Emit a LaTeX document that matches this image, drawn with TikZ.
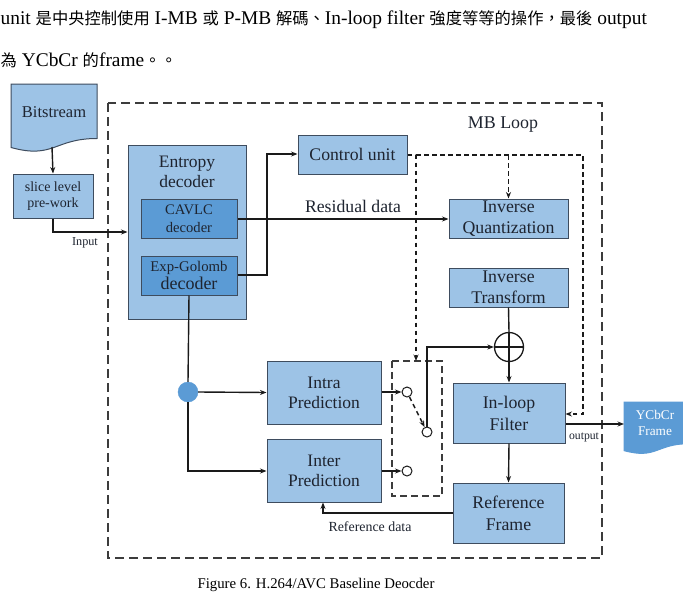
\documentclass[tikz,border=0pt]{standalone}
\usepackage{fontspec}
\setmainfont{Liberation Serif}
\newfontfamily\cjk{Noto Sans CJK TC}
\usetikzlibrary{arrows.meta}
\definecolor{boxc}{HTML}{9DC3E6}
\definecolor{darkc}{HTML}{5B9BD5}
\definecolor{bordc}{HTML}{3E4C5E}
\definecolor{txtc}{HTML}{1E2430}
\definecolor{linec}{HTML}{1A1A1A}
\newcommand\fsz[2]{\fontsize{#1}{#2}\selectfont}
\newcommand\zh{\cjk\fsz{16.3}{19}}
\begin{document}
\begin{tikzpicture}[x=1pt,y=-1pt,
  >={Stealth[length=6.5pt,width=5pt]},
  box/.style={draw=bordc, fill=boxc, line width=1pt, inner sep=0pt, align=center, text=txtc},
  dbox/.style={box, fill=darkc},
  lbl/.style={inner sep=0pt, align=center, text=txtc},
  conn/.style={draw=linec, line width=1.4pt},
  outerdash/.style={draw=linec!85, line width=1.6pt, dash pattern=on 9pt off 5pt},
  swdash/.style={draw=linec!85, line width=1.4pt, dash pattern=on 7pt off 4pt},
  ctrldash/.style={draw=linec, line width=1.4pt, dash pattern=on 4.5pt off 3.5pt},
  sw/.style={circle, draw=linec, fill=white, line width=1pt, minimum size=10pt, inner sep=0pt},
]
\useasboundingbox (0,0) rectangle (683,613);
\fill[white] (0,0) rectangle (683,613);

% header text
\node[anchor=base west, inner sep=0pt, text=black] (h1) at (0.5,24)
  {\fsz{19.4}{22}unit {\zh 是中央控制使用} I-MB {\zh 或} P-MB {\zh 解碼、}In-loop filter {\zh 強度等等的操作，最後} output};
\node[anchor=base west, inner sep=0pt, text=black] (h2) at (0.5,66)
  {\fsz{19.4}{22}{\zh 為} YCbCr {\zh 的}frame{\zh 。。}};

% outer MB loop box
\draw[outerdash] (108,103) rectangle (602,558);
\node[lbl, font=\fsz{17.9}{20}] (mbl) at (503,125) {MB Loop};

% Bitstream document shape
\draw[draw=bordc, fill=boxc, line width=1pt] (11,84) -- (97,84) -- (97,138.5)
  .. controls (54,138.5) and (54,159.3) .. (11,147.5) -- cycle;
\node[lbl, font=\fsz{16.5}{18}] (bits) at (54,112) {Bitstream};
\coordinate (bitsb) at (52,147);

% slice level
\node[box, minimum width=80pt, minimum height=44pt, font=\fsz{14}{16}] (slice) at (53,196) {slice level\\pre-work};

% entropy decoder
\node[box, minimum width=118pt, minimum height=174pt] (ent) at (187,232) {};
\node[lbl, font=\fsz{17.5}{20}] (entl) at (187,172) {Entropy\\decoder};
\node[dbox, minimum width=96pt, minimum height=39pt, font=\fsz{14.6}{18}] (cavlc) at (189,218.5) {CAVLC\\decoder};
\node[dbox, minimum width=96pt, minimum height=39pt] (expg) at (189,275.5) {{\fsz{14.8}{17}Exp-Golomb}\\[1pt]{\fsz{18}{19}decoder}};

% control unit
\node[box, minimum width=109pt, minimum height=39pt, font=\fsz{17.7}{20}] (ctrl) at (352.5,154.5) {Control unit};

% inverse quantization / transform
\node[box, minimum width=119pt, minimum height=39pt, font=\fsz{17.8}{21}] (iq) at (508.5,218.5) {Inverse\\Quantization};
\node[box, minimum width=119pt, minimum height=39pt, font=\fsz{17.8}{21}] (it) at (508.5,287.5) {Inverse\\Transform};

% adder
\node[circle, draw=linec, line width=1.3pt, minimum size=29pt, inner sep=0pt] (plus) at (509,347) {};
\draw[draw=linec, line width=1.3pt] (plus.north) -- (plus.south) (plus.west) -- (plus.east);

% in-loop filter / reference frame
\node[box, minimum width=112pt, minimum height=60pt, font=\fsz{17.8}{22}] (inloop) at (509,413) {In-loop\\Filter};
\node[box, minimum width=111pt, minimum height=60pt, font=\fsz{17.8}{22}] (ref) at (508.5,513) {Reference\\Frame};

% predictions
\node[box, minimum width=114pt, minimum height=63pt, font=\fsz{17.5}{20}] (intra) at (324,392.5) {Intra\\Prediction};
\node[box, minimum width=114pt, minimum height=63pt, font=\fsz{17.5}{20}] (inter) at (324,470.5) {Inter\\Prediction};

% branch dot
\node[circle, fill=darkc, draw=darkc, minimum size=20pt, inner sep=0pt] (dot) at (188,392) {};

% switch
\draw[swdash] (392,361) rectangle (442,496);
\coordinate (swtop) at (416,361);
\node[sw] (s1) at (407,392) {};
\node[sw] (s2) at (427,432) {};
\node[sw] (s3) at (407,471) {};

% YCbCr frame
\draw[draw=darkc, fill=darkc, line width=1pt] (624,402) -- (689,402) -- (689,443.7)
  .. controls (656.5,443.7) and (656.5,459.6) .. (624,450.6) -- cycle;
\node[lbl, text=white, font=\fsz{13.3}{16.5}] (ycc) at (655,423) {YCbCr\\Frame};
\coordinate (yccw) at (624,424);

% connectors
\draw[conn,->] (bitsb) -- (slice.north);
\draw[conn,->] (slice.south) -- (53,232) -- (ent.west);
\node[lbl, font=\fsz{12.2}{14}] (inputl) at (85,243) {Input};
\draw[conn,->] (cavlc.east |- 0,219) -- (iq.west |- 0,219);
\node[lbl, font=\fsz{17.7}{20}] (resl) at (353,206) {Residual data};
\draw[conn,->] (expg.east |- 0,275) -- (267,275) -- (267,154) -- (ctrl.west |- 0,154);
\draw[conn] (expg.south) -- (dot.north);
\draw[conn,->] (dot.east) -- (intra.west);
\draw[conn,->] (dot.south) -- (188,471) -- (inter.west |- 0,471);
\draw[conn,->] (intra.east |- 0,392) -- (s1.west);
\draw[conn,->] (inter.east |- 0,471) -- (s3.west);
\draw[ctrldash,->] (s1) -- (s2);
\draw[conn,->] (s2.north) -- (427,347) -- (plus.west);
\draw[conn] (it.south) -- (plus.north);
\draw[conn,->] (plus.south) -- (inloop.north);
\draw[conn,->] (inloop.south) -- (ref.north);
\draw[conn,->] (ref.west) -- (323,513) -- (inter.south -| 323,0);
\node[lbl, font=\fsz{13.9}{16}] (refl) at (370,527) {Reference data};
\draw[conn,->] (inloop.east |- 0,424) -- (yccw);
\node[lbl, font=\fsz{11.7}{13}] (outl) at (584,437) {output};

% control (dashed) lines
\draw[ctrldash,->] (ctrl.east |- 0,155) -- (416,155) -- (swtop);
\draw[ctrldash,->] (416,155) -- (583,155) -- (583,414) -- (inloop.east |- 0,414);
\draw[ctrldash,->] (508.5,155) -- (iq.north);

% caption
\node[lbl, text=black, font=\fsz{14.8}{17}] (cap) at (316,585) {Figure 6. H.264/AVC Baseline Deocder};
\end{tikzpicture}
\end{document}
